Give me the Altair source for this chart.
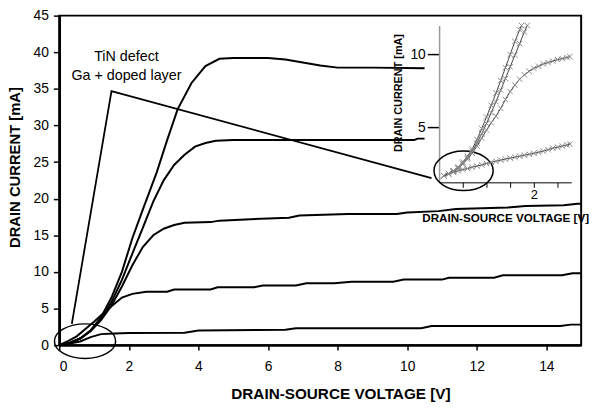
import altair as alt
import pandas as pd

# ---------------- main output characteristics (drain current, mA) ----------------
vds_a = [0, 0.3, 0.6, 0.9, 1.2, 1.5, 1.8, 2.1, 2.4, 2.8, 3.1, 3.4, 3.8, 4.2, 4.6, 5.0, 6.0, 6.5, 7.0, 7.5, 8.0, 9.0, 10.5]
id_a = [0, 0.3, 0.9, 2.0, 3.8, 6.5, 10.0, 14.6, 18.5, 23.6, 28.0, 32.2, 35.8, 38.1, 39.1, 39.2, 39.2, 39.0, 38.6, 38.2, 37.9, 37.9, 37.8]

vds_b = [0, 0.3, 0.6, 0.9, 1.2, 1.5, 1.8, 2.1, 2.4, 2.7, 3.0, 3.3, 3.6, 3.9, 4.2, 4.5, 5.0, 10.2, 10.3, 10.5]
id_b = [0, 0.3, 0.9, 2.0, 3.6, 5.9, 8.9, 12.5, 16.0, 19.6, 22.5, 24.6, 26.0, 27.1, 27.6, 27.9, 28.0, 28.0, 28.2, 28.2]

vds_c = [0, 0.3, 0.6, 0.9, 1.2, 1.5, 1.8, 2.1, 2.4, 2.7, 3.0, 3.3, 3.6, 4.35, 4.6, 5.5, 6.6, 6.9, 8.3, 9.7, 10.0, 10.9, 11.4, 12.9, 13.4, 14.5, 14.9, 15]
id_c = [0, 0.3, 0.9, 1.9, 3.4, 5.4, 8.0, 10.9, 13.4, 15.0, 15.9, 16.4, 16.7, 16.8, 17.0, 17.2, 17.4, 17.7, 17.9, 17.9, 18.1, 18.3, 18.6, 18.8, 19.0, 19.1, 19.3, 19.3]

vds_d = [0, 0.25, 0.5, 0.75, 1.0, 1.25, 1.5, 1.8, 2.1, 2.5, 3.1, 3.3, 4.35, 4.55, 5.6, 5.85, 6.8, 7.1, 7.9, 8.4, 9.6, 9.9, 11.0, 11.2, 12.5, 12.75, 14.45, 14.75, 15]
id_d = [0, 0.55, 1.2, 2.2, 3.2, 4.3, 5.3, 6.5, 7.0, 7.3, 7.3, 7.6, 7.6, 7.9, 7.9, 8.15, 8.15, 8.45, 8.45, 8.65, 8.65, 8.95, 8.95, 9.2, 9.2, 9.55, 9.55, 9.8, 9.8]

vds_e = [0, 0.3, 0.6, 0.9, 1.2, 1.6, 2.0, 3.6, 4.0, 6.5, 6.8, 10.4, 10.7, 14.4, 14.7, 15]
id_e = [0, 0.2, 0.5, 1.1, 1.5, 1.6, 1.65, 1.7, 2.0, 2.1, 2.3, 2.3, 2.6, 2.6, 2.8, 2.8]

# callout line (TiN defect annotation)
callout_x = [0.36, 1.5, 10.7]
callout_y = [2.9, 34.7, 22.8]

label_lines = ["TiN defect", "Ga + doped layer"]
label_x = [1.93, 1.93]
label_y = [39.3, 36.8]

# ellipses marking the low-voltage region (main and inset)
ellipse_main_xy = (0.74, 0.54)
ellipse_inset_xy = (11.62, 23.8)

# ---------------- inset (zoomed low-voltage region) ----------------
ins_x_s1 = [0.10, 0.20, 0.30, 0.40, 0.50, 0.60, 0.70, 0.80, 0.90, 1.00, 1.10, 1.20, 1.30, 1.40, 1.50, 1.60, 1.70, 1.74]
ins_y_s1 = [1.65, 1.8, 2.0, 2.25, 2.6, 3.0, 3.5, 4.15, 4.9, 5.7, 6.5, 7.35, 8.2, 9.1, 10.0, 10.9, 11.7, 12.0]

ins_x_s2 = [0.10, 0.20, 0.30, 0.40, 0.50, 0.60, 0.70, 0.80, 0.90, 1.00, 1.10, 1.20, 1.30, 1.40, 1.50, 1.60, 1.70, 1.80, 1.86]
ins_y_s2 = [1.65, 1.8, 2.0, 2.2, 2.5, 2.9, 3.35, 3.9, 4.55, 5.25, 6.0, 6.75, 7.55, 8.35, 9.15, 9.95, 10.75, 11.55, 12.0]

ins_x_m = [0.10, 0.20, 0.30, 0.40, 0.50, 0.60, 0.70, 0.80, 0.90, 1.00, 1.10, 1.20, 1.30, 1.40, 1.50, 1.60, 1.70, 1.80, 1.90, 2.00, 2.10, 2.20, 2.30, 2.40, 2.50, 2.60, 2.70, 2.76]
ins_y_m = [1.65, 1.8, 1.95, 2.15, 2.45, 2.8, 3.2, 3.7, 4.25, 4.8, 5.3, 5.75, 6.3, 6.9, 7.45, 7.9, 8.3, 8.6, 8.85, 9.05, 9.2, 9.35, 9.45, 9.55, 9.65, 9.72, 9.8, 9.85]

ins_x_l = [0.10, 0.20, 0.30, 0.40, 0.50, 0.60, 0.70, 0.80, 0.90, 1.00, 1.10, 1.20, 1.30, 1.40, 1.50, 1.60, 1.70, 1.80, 1.90, 2.00, 2.10, 2.20, 2.30, 2.40, 2.50, 2.60, 2.70, 2.76]
ins_y_l = [1.65, 1.78, 1.9, 2.0, 2.08, 2.15, 2.25, 2.32, 2.4, 2.5, 2.58, 2.65, 2.73, 2.8, 2.87, 2.93, 3.0, 3.07, 3.13, 3.2, 3.27, 3.35, 3.45, 3.55, 3.62, 3.7, 3.78, 3.83]

FONT = "Liberation Sans"


def frame(xs, ys, name):
    return pd.DataFrame({"x": xs, "y": ys, "curve": name})


main_df = pd.concat([
    frame(vds_a, id_a, "A"), frame(vds_b, id_b, "B"), frame(vds_c, id_c, "C"),
    frame(vds_d, id_d, "D"), frame(vds_e, id_e, "E"),
])
callout_df = pd.DataFrame({"x": callout_x, "y": callout_y, "o": list(range(len(callout_x)))})
label_df = pd.DataFrame({"x": label_x, "y": label_y, "t": label_lines})
ell_main_df = pd.DataFrame({"x": [ellipse_main_xy[0]], "y": [ellipse_main_xy[1]]})
ell_inset_df = pd.DataFrame({"x": [ellipse_inset_xy[0]], "y": [ellipse_inset_xy[1]]})
inset_df = pd.concat([
    frame(ins_x_s1, ins_y_s1, "S1"), frame(ins_x_s2, ins_y_s2, "S2"),
    frame(ins_x_m, ins_y_m, "M"), frame(ins_x_l, ins_y_l, "L"),
])


def ellipse_path(r):
    k = 0.5523
    return (f"M 1 0 C 1 {k*r:.3f} {k:.3f} {r:.3f} 0 {r:.3f} "
            f"C {-k:.3f} {r:.3f} -1 {k*r:.3f} -1 0 "
            f"C -1 {-k*r:.3f} {-k:.3f} {-r:.3f} 0 {-r:.3f} "
            f"C {k:.3f} {-r:.3f} 1 {-k*r:.3f} 1 0 Z")


X_PATH = "M -1 -1 L 1 1 M -1 1 L 1 -1"

xm = alt.X("x:Q",
           scale=alt.Scale(domain=[0, 15], nice=False, zero=False),
           axis=alt.Axis(values=list(range(0, 15, 2)), tickSize=5, tickWidth=1.5,
                         domainWidth=2.5, labelFontSize=14, labelPadding=10,
                         title="DRAIN-SOURCE VOLTAGE [V]", titleFontSize=15.5,
                         titleFontWeight="bold", titleX=285, titleY=49,
                         titleAlign="center", titleBaseline="middle"))
ym = alt.Y("y:Q",
           scale=alt.Scale(domain=[0, 45], nice=False, zero=False),
           axis=alt.Axis(values=list(range(0, 46, 5)), tickSize=6, tickWidth=1.5,
                         domainWidth=2.5, labelFontSize=14, labelPadding=5,
                         title="DRAIN CURRENT [mA]", titleFontSize=15,
                         titleFontWeight="bold", titleX=-45, titleY=153.5,
                         titleAngle=270, titleAlign="center", titleBaseline="middle"))

curves = alt.Chart(main_df).mark_line(color="black", strokeWidth=2).encode(
    x=xm, y=ym, detail="curve:N")
callout = alt.Chart(callout_df).mark_line(color="black", strokeWidth=1.8).encode(
    x=xm, y=ym, order="o:Q")
labels = alt.Chart(label_df).mark_text(font=FONT, fontSize=14.5, color="black",
                                       align="center", baseline="middle").encode(
    x=xm, y=ym, text="t:N")
ell_main = alt.Chart(ell_main_df).mark_point(
    shape=ellipse_path(0.565), size=3844, filled=False, stroke="black",
    strokeWidth=1.5, opacity=1).encode(x=xm, y=ym)
ell_inset = alt.Chart(ell_inset_df).mark_point(
    shape=ellipse_path(0.667), size=3600, filled=False, stroke="black",
    strokeWidth=1.5, opacity=1).encode(x=xm, y=ym)

main = alt.layer(curves, callout, labels, ell_main, ell_inset)

xi = alt.X("x:Q",
           scale=alt.Scale(domain=[0, 2.79], range=[385, 519], nice=False, zero=False),
           axis=alt.Axis(orient="bottom", offset=-165, values=[0.5, 1, 1.5, 2, 2.5],
                         labelExpr="datum.value == 2 ? '2' : ''", tickSize=5, tickWidth=1,
                         domainWidth=1, labelFontSize=13, labelPadding=1,
                         title="DRAIN-SOURCE VOLTAGE [V]", titleFontSize=11.8,
                         titleFontWeight="bold", titleX=452, titleY=36,
                         titleAlign="center", titleBaseline="middle"))
yi = alt.Y("y:Q",
           scale=alt.Scale(domain=[1.2, 12], range=[169, 10], nice=False, zero=False),
           axis=alt.Axis(orient="left", offset=-385, values=[5, 10], tickSize=12,
                         tickWidth=1.5, domainColor="#999999", domainWidth=1.5,
                         labelFontSize=14, labelPadding=2,
                         title="DRAIN CURRENT [mA]", titleFontSize=11,
                         titleFontWeight="bold", titleX=-41, titleY=78,
                         titleAngle=270, titleAlign="center", titleBaseline="middle"))

inset_lines = alt.Chart(inset_df).mark_line(color="#444444", strokeWidth=1).encode(
    x=xi, y=yi, detail="curve:N")
inset_pts = alt.Chart(inset_df).mark_point(
    shape=X_PATH, size=30, filled=False, stroke="#888888", strokeWidth=1,
    opacity=1).encode(x=xi, y=yi)
inset = alt.layer(inset_lines, inset_pts)

chart = alt.layer(main, inset).resolve_scale(x="independent", y="independent").properties(
    width=529, height=334,
    autosize=alt.AutoSizeParams(type="none"),
    padding={"left": 52, "top": 5, "right": 11, "bottom": 60},
).configure_view(stroke="black", strokeWidth=2).configure_axis(
    grid=False, labelFont=FONT, titleFont=FONT, labelColor="black",
    titleColor="black", tickColor="black", domainColor="black")

chart.save("out.html", embed_options={"renderer": "svg", "actions": False})
